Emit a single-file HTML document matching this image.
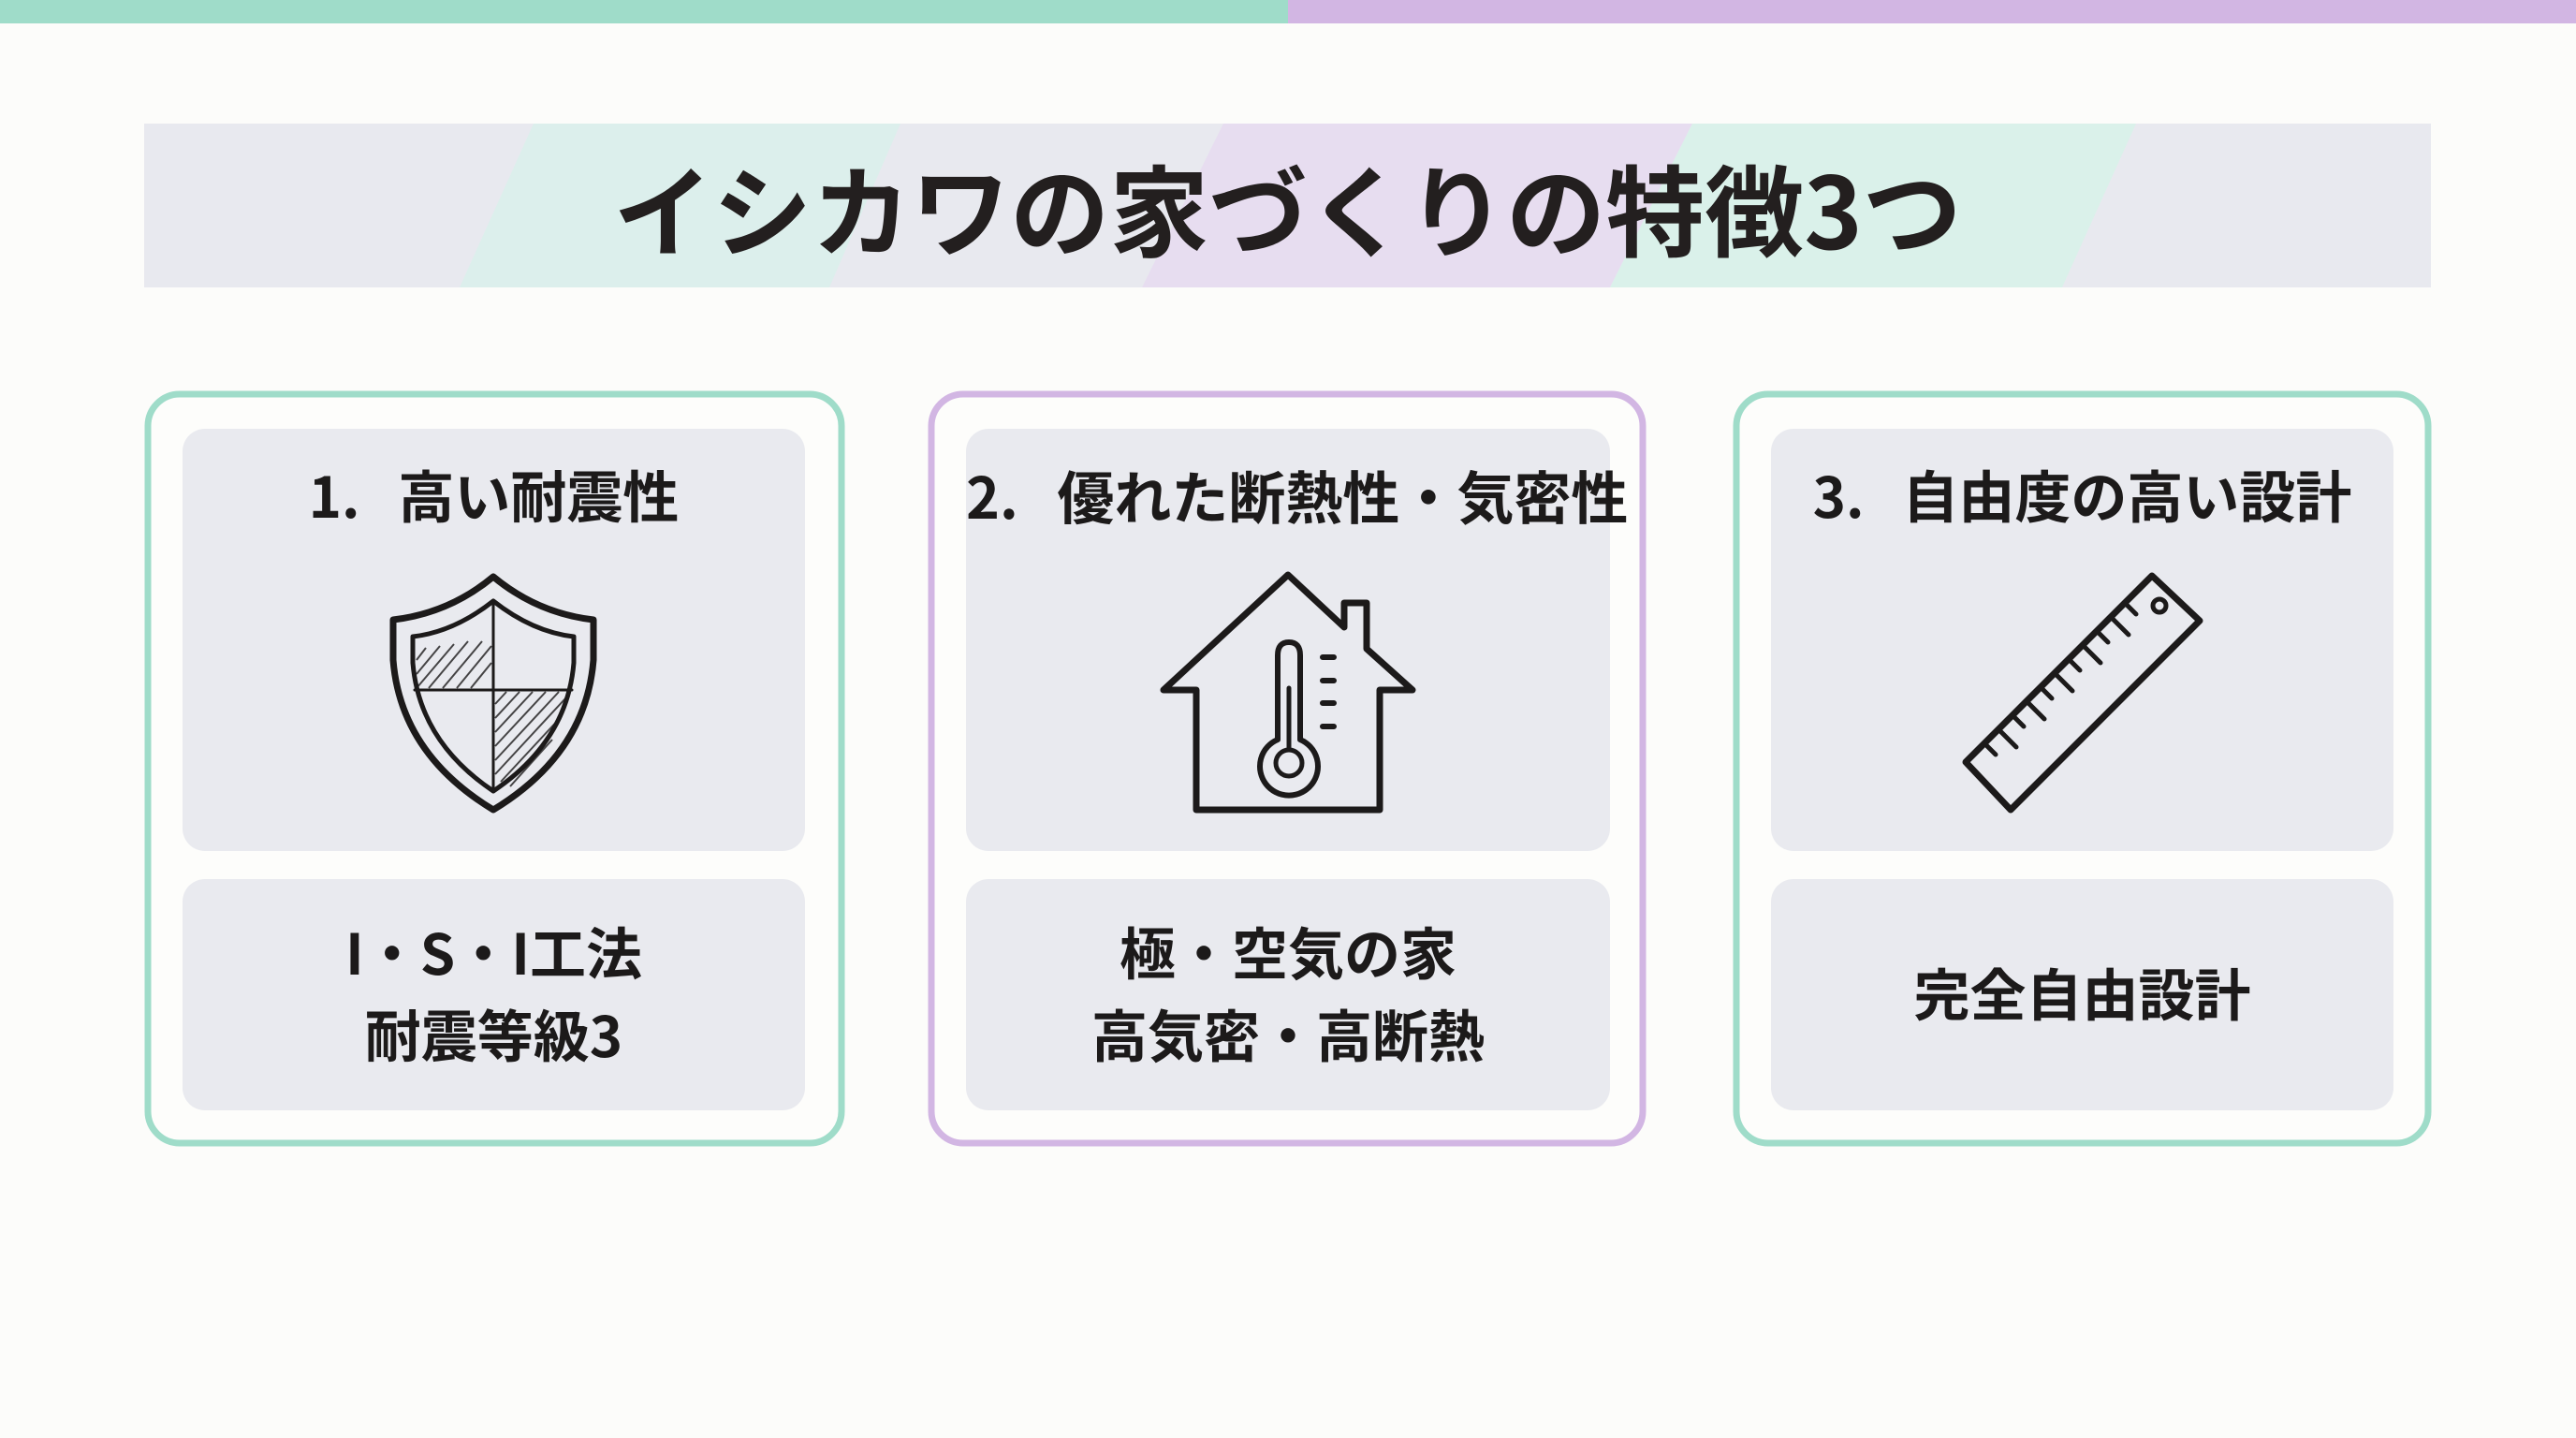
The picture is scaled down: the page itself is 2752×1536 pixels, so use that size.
<!DOCTYPE html>
<html><head><meta charset="utf-8"><style>
html,body{margin:0;padding:0;background:#fcfcfa;}
body{width:2752px;height:1536px;position:relative;overflow:hidden;font-family:"Liberation Sans","Noto Sans CJK JP",sans-serif;}
.t{position:absolute;text-align:center;font-family:"Noto Sans CJK JP",sans-serif;font-weight:700;color:#1c1a1a;white-space:nowrap;}
</style></head><body>
<svg width="2752" height="1536" viewBox="0 0 2752 1536" style="position:absolute;left:0;top:0">
<rect x="0" y="0" width="1376" height="25" fill="#9fdcc9"/>
<rect x="1376" y="0" width="1376" height="25" fill="#d2b6e3"/>
<rect x="154" y="132" width="2443" height="175" fill="#e8e9ef"/>
<polygon points="570,132 962,132 886,307 491,307" fill="#dcefec"/>
<polygon points="1307,132 1808,132 1720,307 1220,307" fill="#e7ddf0"/>
<polygon points="1808,132 2282,132 2203,307 1720,307" fill="#daf1ea"/>
<g fill="#fdfdfb" stroke-width="7">
<rect x="158" y="421" width="741" height="800" rx="34" stroke="#9fdcc9"/>
<rect x="995" y="421" width="760" height="800" rx="34" stroke="#d2b6e3"/>
<rect x="1855" y="421" width="739" height="800" rx="34" stroke="#9fdcc9"/>
</g>
<g fill="#e9eaef">
<rect x="195" y="458" width="665" height="451" rx="24"/>
<rect x="195" y="939" width="665" height="247" rx="24"/>
<rect x="1032" y="458" width="688" height="451" rx="24"/>
<rect x="1032" y="939" width="688" height="247" rx="24"/>
<rect x="1892" y="458" width="665" height="451" rx="24"/>
<rect x="1892" y="939" width="665" height="247" rx="24"/>
</g>
<g fill="none" stroke="#1c1a1a" stroke-width="7" stroke-linejoin="round" stroke-linecap="round">
<path d="M527,616 Q480,655 420,662 L420,705 Q428,805 527,865 Q626,805 634,705 L634,662 Q574,655 527,616 Z"/>
<path d="M527,642 Q485,675 441,680 L441,708 Q448,792 527,845 Q606,792 613,708 L613,680 Q569,675 527,642 Z" stroke-width="5"/>
<path d="M527,642 L527,845 M443,737 L611,737" stroke-width="3"/>
<path d="M1278,865 L1278,737 L1243,737 L1376,614 L1436,670 L1436,644 L1460,644 L1460,693 L1509,737 L1474,737 L1474,865 Z"/>
<path d="M1365,790 L1365,700 Q1365,686 1377,686 Q1389,686 1389,700 L1389,790 A31,31 0 1 1 1365,790 Z" stroke-width="6"/>
<circle cx="1377" cy="815" r="14" stroke-width="5"/>
<path d="M1377,801 L1377,735" stroke-width="5"/>
<path d="M1413,702 L1425,702 M1413,727 L1425,727 M1413,751 L1425,751 M1413,776 L1425,776" stroke-width="6"/>
<polygon points="2299,615 2350,663 2148,865 2100,814"/>
<circle cx="2307" cy="647" r="7" stroke-width="5"/>
<path d="M2270,644 L2282,656 M2255,659 L2274,678 M2240,674 L2252,686 M2225,689 L2244,708 M2210,704 L2222,716 M2195,719 L2214,738 M2180,734 L2192,746 M2165,749 L2184,768 M2150,764 L2162,776 M2135,779 L2154,798 M2120,794 L2132,806" stroke-width="5"/>
</g>
<g stroke="#1c1a1a" stroke-width="2" fill="none" opacity="0.8">
<path d="M445,720 L470,690 M445,735 L485,688 M458,735 L500,685 M473,735 L515,685 M488,735 L525,690 M503,735 L525,708 M445,705 L455,692"/>
<path d="M529,752 L541,739 M529,767 L555,739 M529,782 L569,739 M529,797 L583,739 M529,812 L597,739 M529,827 L605,745 M535,835 L600,765 M545,840 L590,790"/>
</g>
</svg>
<div class="t" style="left:154px;width:2443px;top:150px;font-size:106px;line-height:140px;color:#231f1f;">イシカワの家づくりの特徴3つ</div>
<div class="t" style="left:195px;width:665px;top:488px;font-size:60px;line-height:80px;">1.&nbsp;&nbsp; 高い耐震性</div>
<div class="t" style="left:1032px;width:688px;top:488px;font-size:61px;line-height:80px;">2.&nbsp;&nbsp; 優れた断熱性・気密性</div>
<div class="t" style="left:1892px;width:665px;top:488px;font-size:60px;line-height:80px;">3.&nbsp;&nbsp; 自由度の高い設計</div>
<div class="t" style="left:195px;width:665px;top:972px;font-size:60px;line-height:88px;">I・S・I工法<br>耐震等級3</div>
<div class="t" style="left:1032px;width:688px;top:972px;font-size:60px;line-height:88px;">極・空気の家<br>高気密・高断熱</div>
<div class="t" style="left:1892px;width:665px;top:1016px;font-size:60px;line-height:88px;">完全自由設計</div>
</body></html>
